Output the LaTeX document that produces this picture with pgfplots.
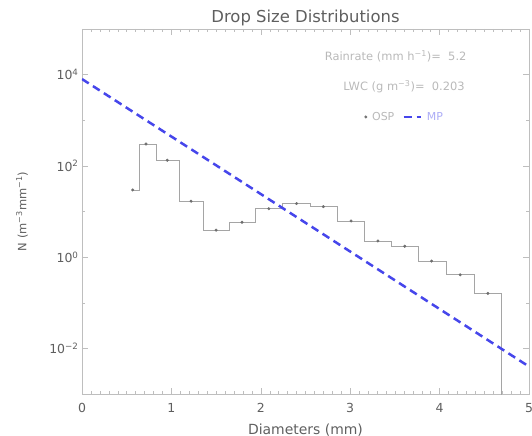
\documentclass[border=0pt]{standalone}
\usepackage{pgfplots}
\pgfplotsset{compat=1.18}
\usepackage{fontspec}
\setmainfont{DejaVu Sans}

\definecolor{framegray}{RGB}{190,190,190}
\definecolor{labelgray}{RGB}{95,95,95}
\definecolor{notegray}{RGB}{185,185,185}
\definecolor{histgray}{RGB}{165,165,165}
\definecolor{dotgray}{RGB}{110,110,110}
\definecolor{mpblue}{RGB}{70,70,235}

% drop size spectrum, last bin empty
\pgfplotstableread{
D     N
0.567 29.7
0.716 302
0.954 133
1.22  16.8
1.50  3.9
1.79  5.8
2.09  11.5
2.40  14.9
2.70  12.8
3.01  6.2
3.31  2.26
3.61  1.73
3.91  0.82
4.23  0.41
4.54  0.16
4.84  1e-6
}\dsd

\begin{document}
\begin{tikzpicture}
\begin{axis}[
    at={(0,0)}, anchor=south west,
    scale only axis,
    width=447bp, height=365bp,
    ymode=log,
    xmin=0, xmax=5, ymin=1e-3, ymax=1e5,
    xtick={0,1,2,3,4,5},
    xticklabels={0,1,2,3,4,5},
    xticklabel style={yshift=-6bp},
    minor x tick num=9,
    ytick={1e-2,1,1e2,1e4},
    yticklabels={10\textsuperscript{−2},10\textsuperscript{0},10\textsuperscript{2},10\textsuperscript{4}},
    minor ytick={1e-3,1e-1,1e1,1e3,1e5},
    tick align=inside,
    major tick length=6bp, minor tick length=3bp,
    axis line style={framegray},
    every tick/.style={framegray},
    tick label style={font=\fontsize{12.5}{14}\selectfont, text=labelgray},
    title={Drop Size Distributions},
    every axis title/.style={at={(axis description cs:0.5,1.019)}, anchor=base,
        font=\fontsize{16.5}{19}\selectfont, text=labelgray},
    xlabel={Diameters (mm)},
    every axis x label/.style={at={(axis description cs:0.5,-0.11)}, anchor=base,
        font=\fontsize{14}{16}\selectfont, text=labelgray},
    ylabel={N (m\textsuperscript{−3}mm\textsuperscript{−1})},
    every axis y label/.style={at={(axis description cs:-0.134,0.5)}, anchor=center, rotate=90,
        font=\fontsize{11.5}{13}\selectfont, text=labelgray},
    legend style={at={(axis description cs:0.625,0.759)}, anchor=west,
        draw=none, fill=none, legend columns=2,
        font=\fontsize{11}{13}\selectfont, text=notegray,
        /tikz/every odd column/.append style={column sep=3bp},
        /tikz/every even column/.append style={column sep=6bp}},
]
\addplot[const plot mark mid, histgray, line width=0.7bp, forget plot] table[x=D, y=N] {\dsd};
\addplot[only marks, mark=*, mark size=1.3bp, dotgray, skip coords between index={15}{16}] table[x=D, y=N] {\dsd};
\addlegendentry{OSP}
\addplot[mpblue, line width=2.5bp, dash pattern=on 8bp off 5bp] coordinates {(0,8000) (5,4.0e-3)};
\addlegendentry{\textcolor{mpblue!45}{MP}}
\node[anchor=east, text=notegray, font=\fontsize{11.5}{13}\selectfont] at (axis description cs:0.868,0.926) {Rainrate (mm h\textsuperscript{−1})=\ \ 5.2};
\node[anchor=east, text=notegray, font=\fontsize{11.5}{13}\selectfont] at (axis description cs:0.864,0.841) {LWC (g m\textsuperscript{−3})=\ \ 0.203};
\end{axis}
\pgfresetboundingbox
\useasboundingbox (-82bp,-42bp) rectangle (450bp,394bp);
\end{tikzpicture}
\end{document}
